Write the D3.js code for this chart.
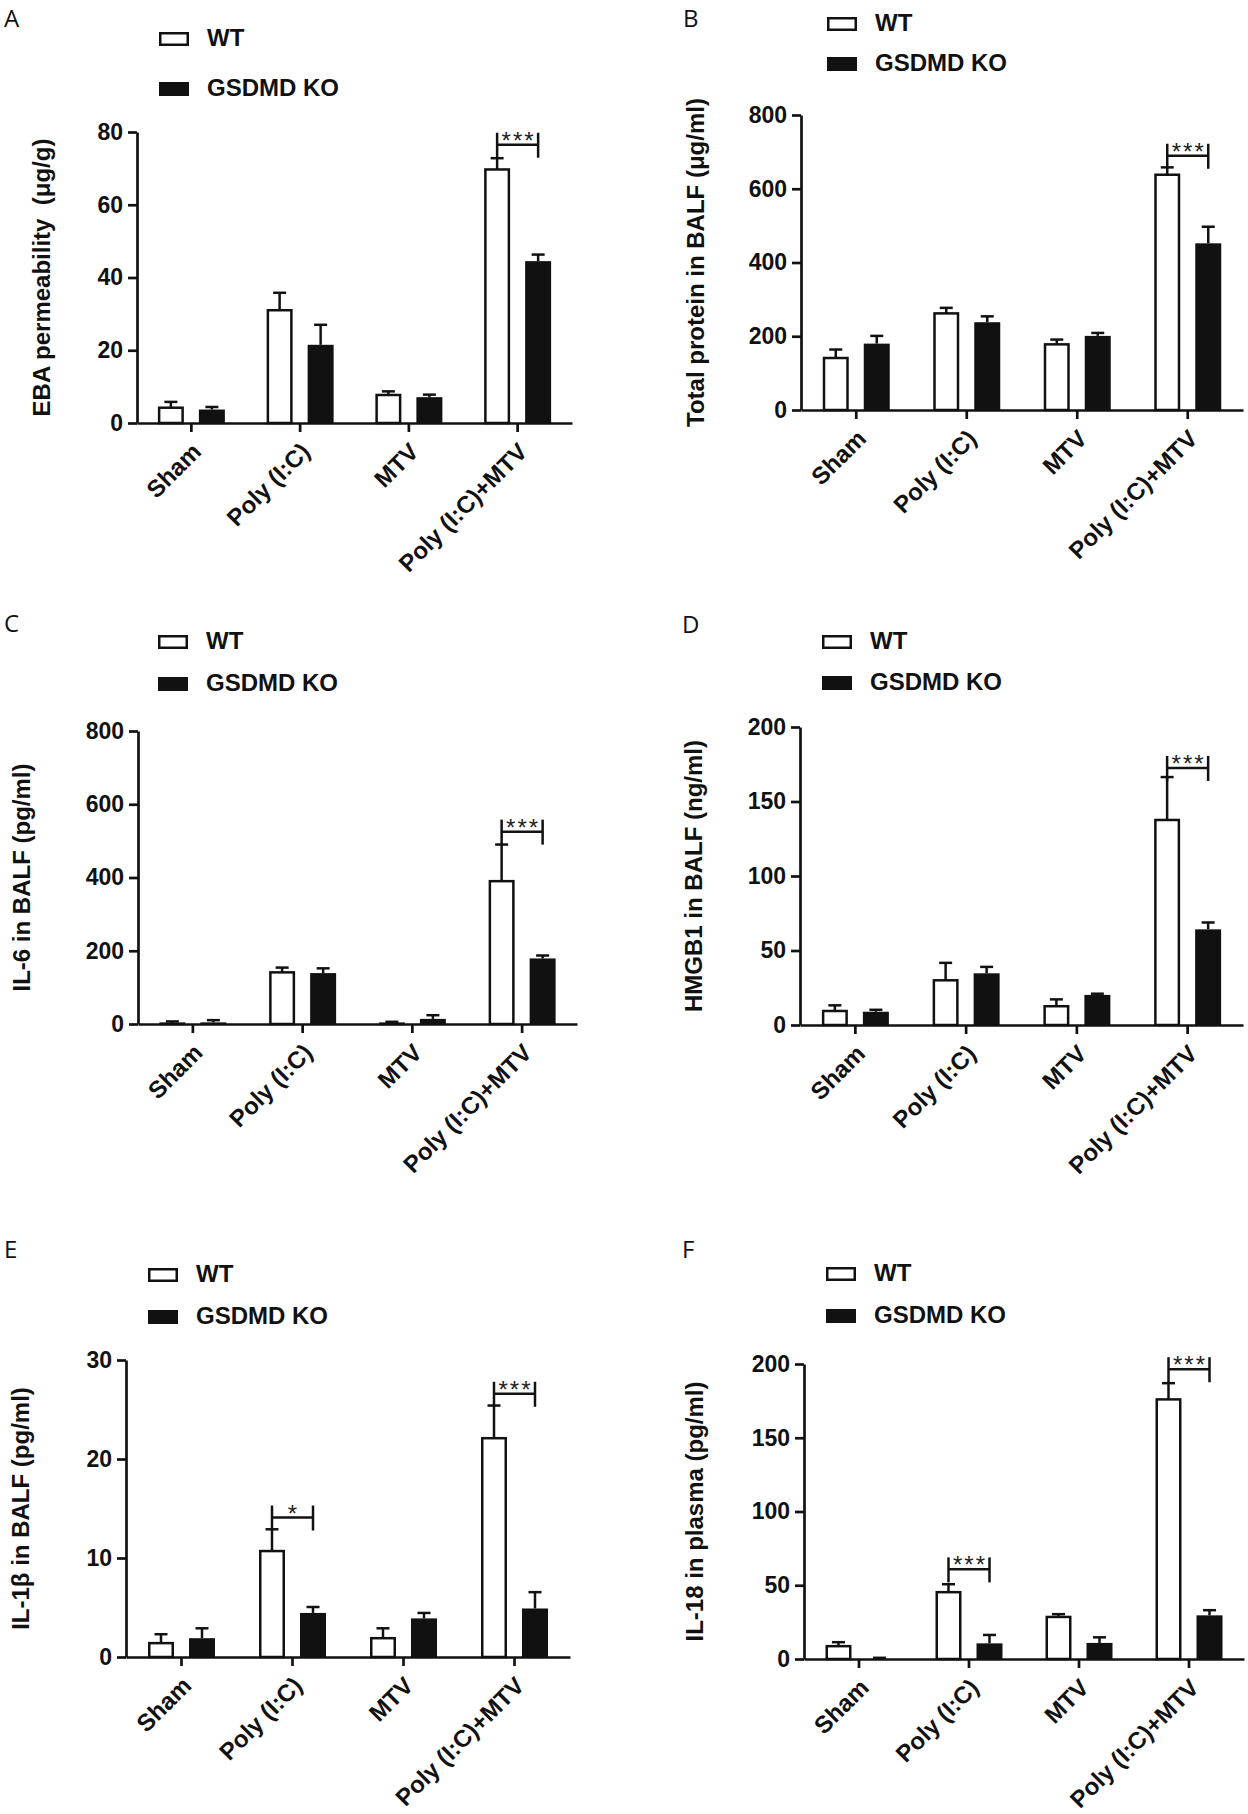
<!DOCTYPE html>
<html>
<head>
<meta charset="utf-8">
<script src="https://cdn.jsdelivr.net/npm/d3@7"></script>
<style>
  body { margin: 0; background: #fff; }
  svg { display: block; }
  .axis path, .axis line { stroke: #111; stroke-width: 2.7; }
  .axis text { font-family: 'Liberation Sans', Arial, sans-serif; font-weight: bold; fill: #111; }
  .label { font-family: 'Liberation Sans', Arial, sans-serif; font-weight: bold; fill: #111; }
  .letter { font-family: 'Open Sans', 'Noto Sans', sans-serif; font-size: 24px; fill: #111; }
</style>
</head>
<body>
<svg id="chart"></svg>
<script>
const w = 1248, h = 1814;

// categories and series
const groups = ['Sham', 'Poly (I:C)', 'MTV', 'Poly (I:C)+MTV'];
const series = ['WT', 'GSDMD KO'];

// A - EBA permeability
const ebaWT = [4.2, 31.0, 7.7, 69.7];
const ebaWTSem = [1.6, 4.8, 1.0, 3.1];
const ebaKO = [3.7, 21.5, 7.1, 44.5];
const ebaKOSem = [0.7, 5.5, 0.7, 1.8];
const ebaTicks = [0, 20, 40, 60, 80];
const ebaSig = [{ group: 3, top: 79.8, text: '***' }];

// B - total protein in BALF
const proteinWT = [141, 262, 178, 638];
const proteinWTSem = [23, 15, 13, 20];
const proteinKO = [180, 238, 201, 452];
const proteinKOSem = [21, 16, 8, 45];
const proteinTicks = [0, 200, 400, 600, 800];
const proteinSig = [{ group: 3, top: 722, text: '***' }];

// C - IL-6 in BALF
const il6WT = [1, 141, 1, 390];
const il6WTSem = [6, 13, 5, 100];
const il6KO = [4.5, 139, 14, 179];
const il6KOSem = [6, 13, 10, 8];
const il6Ticks = [0, 200, 400, 600, 800];
const il6Sig = [{ group: 3, top: 558, text: '***' }];

// D - HMGB1 in BALF
const hmgbWT = [9.4, 30.0, 12.6, 137.6];
const hmgbWTSem = [3.8, 11.7, 4.6, 28.8];
const hmgbKO = [8.9, 34.7, 20.2, 64.2];
const hmgbKOSem = [1.3, 4.3, 0.8, 4.6];
const hmgbTicks = [0, 50, 100, 150, 200];
const hmgbSig = [{ group: 3, top: 180.6, text: '***' }];

// E - IL-1b in BALF
const il1bWT = [1.4, 10.7, 1.9, 22.1];
const il1bWTSem = [0.9, 2.2, 1.0, 3.3];
const il1bKO = [1.9, 4.45, 3.9, 4.9];
const il1bKOSem = [1.0, 0.6, 0.55, 1.65];
const il1bTicks = [0, 10, 20, 30];
const il1bSig = [{ group: 1, top: 15.3, text: '*' }, { group: 3, top: 27.8, text: '***' }];

// F - IL-18 in plasma
const il18WT = [8.7, 45.3, 28.5, 176];
const il18WTSem = [2.7, 5.4, 1.9, 11];
const il18KO = [0, 10.6, 10.9, 29.6];
const il18KOSem = [0.8, 5.7, 3.8, 3.5];
const il18Ticks = [0, 50, 100, 150, 200];
const il18Sig = [{ group: 1, top: 68.9, text: '***' }, { group: 3, top: 204.6, text: '***' }];

const panels = [
  { letter: 'A', lx: 4, ly: 27, legX: 159, legY: [32, 82], axisX: 137, xEnd: 572, yTop: 132, y0: 423, titleX: 41,
    title: 'EBA permeability\u00a0\u00a0(\u03bcg/g)', means: [ebaWT, ebaKO], sems: [ebaWTSem, ebaKOSem], ticks: ebaTicks, sig: ebaSig },
  { letter: 'B', lx: 683, ly: 27, legX: 827, legY: [17, 57], axisX: 801, xEnd: 1243, yTop: 115, y0: 410, titleX: 695,
    title: 'Total protein in BALF (\u03bcg/ml)', means: [proteinWT, proteinKO], sems: [proteinWTSem, proteinKOSem], ticks: proteinTicks, sig: proteinSig },
  { letter: 'C', lx: 4, ly: 632, legX: 158, legY: [635, 677], axisX: 138, xEnd: 577, yTop: 731, y0: 1024, titleX: 21,
    title: 'IL-6 in BALF (pg/ml)', means: [il6WT, il6KO], sems: [il6WTSem, il6KOSem], ticks: il6Ticks, sig: il6Sig },
  { letter: 'D', lx: 682, ly: 633, legX: 822, legY: [635, 676], axisX: 800, xEnd: 1243, yTop: 727, y0: 1025, titleX: 693,
    title: 'HMGB1 in BALF (ng/ml)', means: [hmgbWT, hmgbKO], sems: [hmgbWTSem, hmgbKOSem], ticks: hmgbTicks, sig: hmgbSig },
  { letter: 'E', lx: 4, ly: 1258, legX: 148, legY: [1268, 1310], axisX: 126, xEnd: 570, yTop: 1360, y0: 1657, titleX: 20,
    title: 'IL-1\u03b2 in BALF (pg/ml)', means: [il1bWT, il1bKO], sems: [il1bWTSem, il1bKOSem], ticks: il1bTicks, sig: il1bSig },
  { letter: 'F', lx: 682, ly: 1258, legX: 826, legY: [1267, 1309], axisX: 804, xEnd: 1244, yTop: 1364, y0: 1659, titleX: 694,
    title: 'IL-18 in plasma (pg/ml)', means: [il18WT, il18KO], sems: [il18WTSem, il18KOSem], ticks: il18Ticks, sig: il18Sig }
];

const chart = d3.select('#chart')
  .attr('width', w)
  .attr('height', h);

const STROKE = 2.5;
const CAP = 6.5; // half width of the error bar cap

function drawPanel(p) {
  const g = chart.append('g');

  const x0 = d3.scaleBand()
    .domain(groups)
    .range([p.axisX, p.xEnd]);

  // bars sit 20.5px either side of the group centre, 26px wide
  const x1 = d3.scaleBand()
    .domain(series)
    .range([-33.5, 33.5])
    .paddingInner(0.366);

  const y = d3.scaleLinear()
    .domain([0, d3.max(p.ticks)])
    .range([p.y0, p.yTop]);

  const centre = gi => x0(groups[gi]) + x0.bandwidth() / 2;
  const barCx = (gi, si) => centre(gi) + x1(series[si]) + x1.bandwidth() / 2;

  // flatten to rows
  const rows = [];
  series.forEach((s, si) => {
    groups.forEach((grp, gi) => {
      rows.push({ si, gi, mean: p.means[si][gi], sem: p.sems[si][gi] });
    });
  });

  // bars
  g.selectAll('rect.bar')
    .data(rows)
    .join('rect')
    .attr('class', 'bar')
    .attr('x', d => d.si === 0 ? centre(d.gi) + x1(series[0]) + STROKE / 2 : centre(d.gi) + x1(series[1]))
    .attr('y', d => y(d.mean))
    .attr('width', d => d.si === 0 ? x1.bandwidth() - STROKE : x1.bandwidth())
    .attr('height', d => p.y0 - y(d.mean))
    .style('fill', d => d.si === 0 ? '#fff' : '#111')
    .style('stroke', d => d.si === 0 ? '#111' : 'none')
    .style('stroke-width', STROKE);

  // error bars (upper only)
  g.selectAll('line.err')
    .data(rows)
    .join('line')
    .attr('class', 'err')
    .attr('x1', d => barCx(d.gi, d.si))
    .attr('x2', d => barCx(d.gi, d.si))
    .attr('y1', d => y(d.mean))
    .attr('y2', d => y(d.mean + d.sem))
    .style('stroke', '#111')
    .style('stroke-width', STROKE);

  g.selectAll('line.cap')
    .data(rows)
    .join('line')
    .attr('class', 'cap')
    .attr('x1', d => barCx(d.gi, d.si) - CAP)
    .attr('x2', d => barCx(d.gi, d.si) + CAP)
    .attr('y1', d => y(d.mean + d.sem))
    .attr('y2', d => y(d.mean + d.sem))
    .style('stroke', '#111')
    .style('stroke-width', STROKE);

  // significance brackets
  p.sig.forEach(s => {
    const xa = barCx(s.group, 0);
    const xb = barCx(s.group, 1);
    const top = y(s.top);
    const b = g.append('g').style('stroke', '#111').style('stroke-width', STROKE);
    b.append('line').attr('x1', xa).attr('x2', xa).attr('y1', top).attr('y2', top + 25);
    b.append('line').attr('x1', xb).attr('x2', xb).attr('y1', top).attr('y2', top + 25);
    b.append('line').attr('x1', xa).attr('x2', xb).attr('y1', top + 12).attr('y2', top + 12);
    g.append('text')
      .attr('x', (xa + xb) / 2 + 1)
      .attr('y', top + 16)
      .attr('text-anchor', 'middle')
      .style('font-family', "'Liberation Sans', Arial, sans-serif")
      .style('font-size', '24px')
      .style('letter-spacing', '2px')
      .style('fill', '#222')
      .text(s.text);
  });

  // Y AXIS
  g.append('g')
    .attr('class', 'axis')
    .attr('transform', `translate(${p.axisX}, 0)`)
    .call(d3.axisLeft(y).tickValues(p.ticks).tickSize(9).tickSizeOuter(0).tickPadding(5))
    .call(a => a.selectAll('text').style('font-size', '23px'));

  // X AXIS
  g.append('g')
    .attr('class', 'axis')
    .attr('transform', `translate(0, ${p.y0})`)
    .call(d3.axisBottom(x0).tickSize(9).tickSizeOuter(0))
    .call(a => a.selectAll('text')
      .style('font-size', '24px')
      .style('text-anchor', 'end')
      .attr('x', 0)
      .attr('y', 0)
      .attr('dy', '0.72em')
      .attr('transform', 'translate(-1, 18) rotate(-45)'));

  // Y AXIS LABEL
  g.append('text')
    .attr('class', 'label')
    .attr('transform', `translate(${p.titleX}, ${(p.y0 + p.yTop) / 2}) rotate(-90)`)
    .attr('text-anchor', 'middle')
    .attr('dominant-baseline', 'central')
    .style('font-size', '24px')
    .text(p.title);

  // legend
  series.forEach((s, si) => {
    g.append('rect')
      .attr('x', p.legX + (si === 0 ? STROKE / 2 : 0))
      .attr('y', p.legY[si] + (si === 0 ? STROKE / 2 : 0))
      .attr('width', si === 0 ? 30 - STROKE : 30)
      .attr('height', si === 0 ? 14 - STROKE : 14)
      .style('fill', si === 0 ? '#fff' : '#111')
      .style('stroke', si === 0 ? '#111' : 'none')
      .style('stroke-width', STROKE);
    g.append('text')
      .attr('class', 'label')
      .attr('x', p.legX + 48)
      .attr('y', p.legY[si] + 14)
      .style('font-size', '24px')
      .text(s);
  });

  // panel letter
  g.append('text')
    .attr('class', 'letter')
    .attr('x', p.lx)
    .attr('y', p.ly)
    .text(p.letter);
}

panels.forEach(drawPanel);
</script>
</body>
</html>
